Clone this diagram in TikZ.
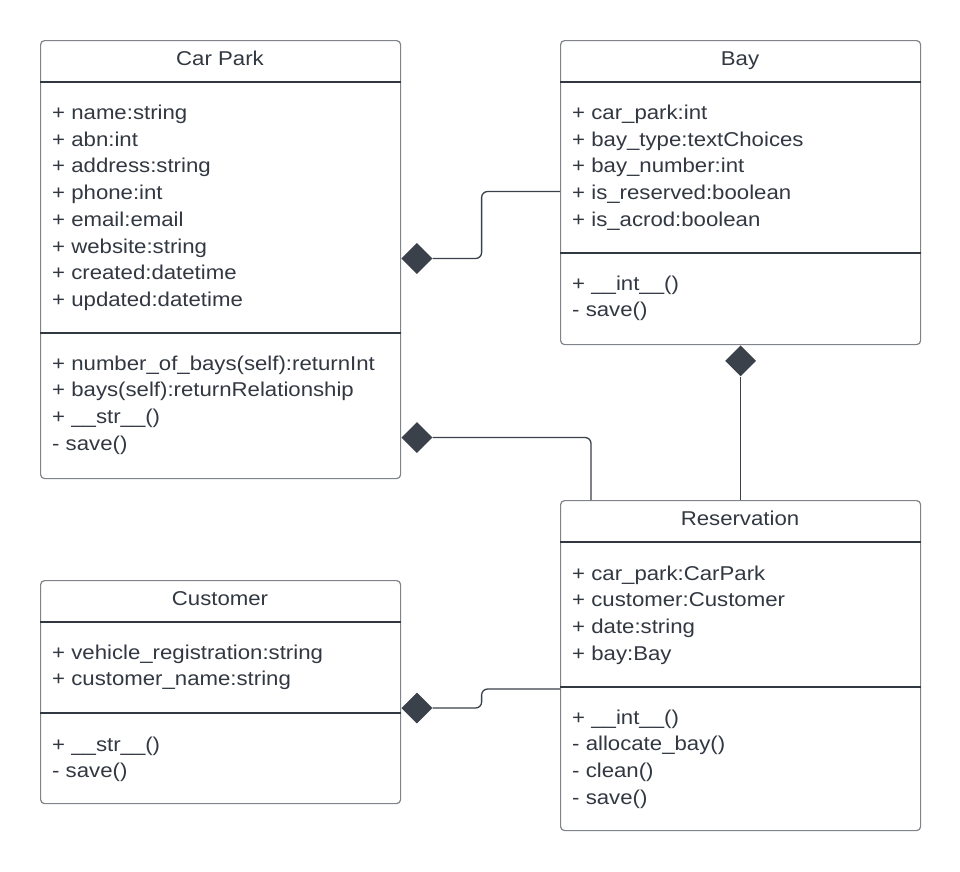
\documentclass[tikz,border=0pt]{standalone}
\usepackage{fontspec}
\setmainfont{Liberation Sans}[FakeStretch=1.11]
\usetikzlibrary{shapes.geometric}
\definecolor{txtcol}{RGB}{50,56,66}
\definecolor{bordercol}{RGB}{128,132,138}
\definecolor{sepcol}{RGB}{50,56,66}
\definecolor{diacol}{RGB}{58,65,74}
\newcommand\classlines[4]{%
  \foreach \lineT [count=\i] in {#4} {%
    \node[txt, anchor=base west] (#1-\i) at ({#2}, {#3+(\i-1)*26.7}) {\lineT};
  }%
}
\begin{document}
\begin{tikzpicture}[x=1pt,y=-1pt,
  box/.style={draw=bordercol, line width=1.2pt, rounded corners=4pt, inner sep=0pt, fill=white, anchor=north west},
  sep/.style={draw=sepcol, line width=1.2pt},
  txt/.style={font=\fontsize{20pt}{24pt}\selectfont, text=txtcol, inner sep=0pt},
  dia/.style={diamond, fill=diacol, draw=none, minimum width=31pt, minimum height=31pt, inner sep=0pt},
  conn/.style={draw=diacol, line width=1.3pt, rounded corners=6pt}]
\useasboundingbox (0,0) rectangle (960,871);

% boxes
\node[box, minimum width=360pt, minimum height=438pt] (cp) at (40,40) {};
\node[box, minimum width=360pt, minimum height=304pt] (bay) at (560,40) {};
\node[box, minimum width=360pt, minimum height=330pt] (res) at (560,500) {};
\node[box, minimum width=360pt, minimum height=223pt] (cus) at (40,580) {};

% separators
\draw[sep] (cp.west |- 0,82) -- (cp.east |- 0,82);
\draw[sep] (cp.west |- 0,333) -- (cp.east |- 0,333);
\draw[sep] (bay.west |- 0,82) -- (bay.east |- 0,82);
\draw[sep] (bay.west |- 0,253) -- (bay.east |- 0,253);
\draw[sep] (res.west |- 0,542) -- (res.east |- 0,542);
\draw[sep] (res.west |- 0,687) -- (res.east |- 0,687);
\draw[sep] (cus.west |- 0,622) -- (cus.east |- 0,622);
\draw[sep] (cus.west |- 0,713) -- (cus.east |- 0,713);

% titles
\node[txt, anchor=base] (cp-t) at (220,65.5) {Car Park};
\node[txt, anchor=base] (bay-t) at (740,65.5) {Bay};
\node[txt, anchor=base] (res-t) at (740,525.5) {Reservation};
\node[txt, anchor=base] (cus-t) at (220,605.5) {Customer};

% members
\classlines{cpa}{52}{119.5}{+ name:string, + abn:int, + address:string, + phone:int, + email:email, + website:string, + created:datetime, + updated:datetime}
\classlines{cpm}{52}{370}{+ number\_of\_bays(self):returnInt, + bays(self):returnRelationship, + \_\_str\_\_(), - save()}
\classlines{baya}{572}{119.5}{+ car\_park:int, + bay\_type:textChoices, + bay\_number:int, + is\_reserved:boolean, + is\_acrod:boolean}
\classlines{baym}{572}{290}{+ \_\_int\_\_(), - save()}
\classlines{resa}{572}{580}{+ car\_park:CarPark, + customer:Customer, + date:string, + bay:Bay}
\classlines{resm}{572}{724}{+ \_\_int\_\_(), - allocate\_bay(), - clean(), - save()}
\classlines{cusa}{52}{659}{+ vehicle\_registration:string, + customer\_name:string}
\classlines{cusm}{52}{751}{+ \_\_str\_\_(), - save()}

% diamonds
\node[dia, anchor=west] (d1) at (cp.east |- 0,258.5) {};
\node[dia, anchor=west] (d2) at (cp.east |- 0,437.5) {};
\node[dia, anchor=north] (d3) at (bay.south) {};
\node[dia, anchor=west] (d4) at (cus.east |- 0,708) {};

% connectors
\draw[conn] (d1.east) -- ++(49,0) |- (bay.west |- 0,191.5);
\draw[conn] (d2.east) -| ([xshift=31pt]res.north west);
\draw[conn] (d3.south) -- (res.north);
\draw[conn] (d4.east) -- ++(49,0) |- (res.west |- 0,689);
\end{tikzpicture}
\end{document}
